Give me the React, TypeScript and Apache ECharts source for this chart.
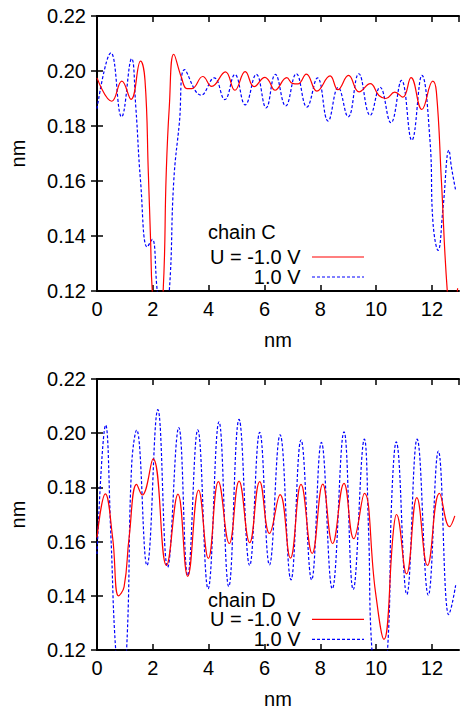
import { useEffect, useRef } from 'react';
import * as echarts from 'echarts';

// ---------- data (nm) ----------
const xTickStep = 2;
const yTickStep = 0.02;
const xMin = 0;
const xMax = 12.97;
const yMin = 0.12;
const yMax = 0.22;

const seriesNames = ['U = -1.0 V', '1.0 V'];
const panelTitles = ['chain C', 'chain D'];

// chain C, U = -1.0 V
const cNegX = [0, 0.53, 0.89, 1.22, 1.56, 1.72, 1.84, 1.92, 1.98, 2.17, 2.37, 2.48, 2.59, 2.75, 3.02, 3.22, 3.4, 3.79, 4.11, 4.6, 4.94, 5.31, 5.63, 6.02, 6.15, 6.38, 6.8, 7.0, 7.2, 7.5, 7.88, 8.35, 8.63, 9.01, 9.39, 9.79, 10.1, 10.35, 10.67, 10.96, 11.25, 11.64, 12.03, 12.16, 12.34, 12.55, 12.72, 12.92];
const cNegY = [0.1975, 0.189, 0.1963, 0.1897, 0.2036, 0.1966, 0.1627, 0.1384, 0.12, 0.1, 0.12, 0.1627, 0.1869, 0.2061, 0.1978, 0.1936, 0.1936, 0.198, 0.1944, 0.1997, 0.193, 0.1998, 0.1943, 0.1977, 0.1966, 0.193, 0.1976, 0.1955, 0.1953, 0.1989, 0.1927, 0.1982, 0.1932, 0.1984, 0.1924, 0.1954, 0.1911, 0.19, 0.1923, 0.1905, 0.1976, 0.186, 0.1963, 0.1924, 0.16, 0.12, 0.107, 0.121];

// chain C, U = 1.0 V
const cPosX = [0, 0.5, 0.88, 1.24, 1.39, 1.56, 1.8, 1.98, 2.16, 2.37, 2.59, 2.75, 2.95, 3.14, 3.73, 4.2, 4.58, 4.94, 5.31, 5.71, 6.06, 6.39, 6.76, 7.14, 7.52, 7.9, 8.28, 8.64, 9.0, 9.38, 9.79, 10.14, 10.53, 10.91, 11.28, 11.64, 11.93, 12.04, 12.22, 12.4, 12.61, 12.7, 12.85];
const cPosY = [0.1863, 0.2066, 0.1833, 0.2045, 0.1869, 0.16, 0.136, 0.1388, 0.12, 0.105, 0.12, 0.16, 0.181, 0.2005, 0.1912, 0.1975, 0.1896, 0.1987, 0.1877, 0.1988, 0.1866, 0.1988, 0.1873, 0.199, 0.1869, 0.1975, 0.1818, 0.194, 0.1833, 0.199, 0.1839, 0.1941, 0.1812, 0.1966, 0.1748, 0.1984, 0.1748, 0.1446, 0.1348, 0.1505, 0.1712, 0.165, 0.1566];

// chain D, U = -1.0 V
const dNegX = [0, 0.3, 0.56, 0.77, 0.97, 1.15, 1.42, 1.62, 2.01, 2.49, 2.9, 3.25, 3.64, 3.99, 4.35, 4.74, 5.09, 5.47, 5.83, 6.18, 6.56, 6.93, 7.31, 7.71, 8.09, 8.44, 8.85, 9.2, 9.58, 9.97, 10.28, 10.62, 10.73, 11.09, 11.46, 11.84, 12.27, 12.63, 12.82];
const dNegY = [0.1615, 0.1776, 0.1615, 0.14, 0.1433, 0.1615, 0.1811, 0.1772, 0.1905, 0.1512, 0.1775, 0.1472, 0.179, 0.1538, 0.1821, 0.1593, 0.1823, 0.1596, 0.1821, 0.163, 0.1773, 0.1539, 0.1811, 0.1556, 0.1812, 0.1593, 0.1815, 0.1611, 0.1778, 0.142, 0.1239, 0.164, 0.17, 0.1481, 0.1762, 0.1512, 0.1778, 0.1655, 0.1695];

// chain D, U = 1.0 V
const dPosX = [0, 0.31, 0.5, 0.67, 0.86, 1.06, 1.24, 1.42, 1.79, 2.18, 2.53, 2.93, 3.25, 3.61, 3.98, 4.37, 4.72, 5.09, 5.47, 5.83, 6.18, 6.56, 6.95, 7.31, 7.69, 8.04, 8.43, 8.85, 9.18, 9.58, 9.73, 9.85, 10.13, 10.41, 10.56, 10.72, 11.1, 11.47, 11.87, 12.23, 12.6, 12.7, 12.85];
const dPosY = [0.1554, 0.203, 0.1615, 0.12, 0.105, 0.12, 0.188, 0.2012, 0.1512, 0.2087, 0.1505, 0.2021, 0.1475, 0.2012, 0.1426, 0.2042, 0.1434, 0.2051, 0.1512, 0.2003, 0.1514, 0.1994, 0.1459, 0.1975, 0.1459, 0.1966, 0.1426, 0.2005, 0.1423, 0.1978, 0.164, 0.12, 0.1, 0.12, 0.176, 0.1968, 0.1405, 0.1978, 0.1402, 0.1934, 0.133, 0.136, 0.1439];

const zip = (xs: number[], ys: number[]) => xs.map((x, i) => [x, ys[i]]);

const FONT = 'Liberation Sans, Arial, Helvetica, sans-serif';
const RED = '#ff0000';
const BLUE = '#0000ff';

const grids = [
  { left: 94, top: 16, width: 365, height: 275 },
  { left: 94, top: 379, width: 365, height: 275 },
];

export default function App() {
  const ref = useRef<HTMLDivElement>(null);

  useEffect(() => {
    if (!ref.current) return;
    const chart = echarts.init(ref.current, undefined, { renderer: 'svg' });

    const xAxes: any[] = [];
    const yAxes: any[] = [];
    grids.forEach((_, gi) => {
      const base = {
        gridIndex: gi,
        type: 'value',
        min: xMin,
        max: xMax,
        interval: xTickStep,
        splitLine: { show: false },
        axisLine: { show: true, lineStyle: { color: '#000', width: 2 } },
        axisTick: { show: true, inside: true, length: 6, lineStyle: { color: '#000', width: 1.5 } },
      };
      xAxes.push({
        ...base,
        position: 'bottom',
        axisLabel: {
          show: true, color: '#000', fontSize: 20, fontFamily: FONT, margin: 8,
          showMaxLabel: false,
          formatter: (v: number) => String(Math.round(v)),
        },
        name: 'nm',
        nameLocation: 'middle',
        nameGap: 39,
        nameTextStyle: { color: '#000', fontSize: 20, fontFamily: FONT },
      });
      xAxes.push({
        ...base,
        position: 'top',
        axisLabel: { show: false },
      });
      const ybase = {
        gridIndex: gi,
        type: 'value',
        min: yMin,
        max: yMax,
        interval: yTickStep,
        splitLine: { show: false },
        axisLine: { show: true, lineStyle: { color: '#000', width: 2 } },
        axisTick: { show: true, inside: true, length: 6, lineStyle: { color: '#000', width: 1.5 } },
      };
      yAxes.push({
        ...ybase,
        position: 'left',
        axisLabel: {
          show: true, color: '#000', fontSize: 20, fontFamily: FONT, margin: 11,
          formatter: (v: number) => v.toFixed(2),
        },
        name: 'nm',
        nameLocation: 'middle',
        nameGap: 69,
        nameTextStyle: { color: '#000', fontSize: 20, fontFamily: FONT },
      });
      yAxes.push({
        ...ybase,
        position: 'right',
        axisLabel: { show: false },
      });
    });

    const panels = [
      { neg: zip(cNegX, cNegY), pos: zip(cPosX, cPosY) },
      { neg: zip(dNegX, dNegY), pos: zip(dPosX, dPosY) },
    ];

    const series: any[] = [];
    panels.forEach((p, gi) => {
      series.push({
        type: 'line',
        name: seriesNames[0],
        xAxisIndex: gi * 2,
        yAxisIndex: gi * 2,
        data: p.neg,
        showSymbol: false,
        smooth: 0.45,
        clip: true,
        lineStyle: { color: RED, width: 1.2 },
        z: 3,
      });
      series.push({
        type: 'line',
        name: seriesNames[1],
        xAxisIndex: gi * 2,
        yAxisIndex: gi * 2,
        data: p.pos,
        showSymbol: false,
        smooth: 0.45,
        clip: true,
        lineStyle: { color: BLUE, width: 1.2, type: [3, 2] },
        z: 2,
      });
    });

    const legendY = [
      { title: 232, a: 257, b: 277 },
      { title: 599.5, a: 619.3, b: 639.3 },
    ];
    const graphic: any[] = [];
    legendY.forEach((ly, gi) => {
      const ts = { fill: '#000', fontSize: 20, fontFamily: FONT, verticalAlign: 'middle' };
      graphic.push({ type: 'text', left: 208, top: ly.title - 10, style: { ...ts, text: panelTitles[gi], verticalAlign: 'top' }, z: 10 });
      graphic.push({ type: 'text', x: 300.5, y: ly.a, style: { ...ts, text: seriesNames[0], align: 'right' }, z: 10 });
      graphic.push({ type: 'text', x: 300.5, y: ly.b, style: { ...ts, text: seriesNames[1], align: 'right' }, z: 10 });
      graphic.push({ type: 'line', shape: { x1: 312, y1: ly.a, x2: 364, y2: ly.a }, style: { stroke: RED, lineWidth: 1.2 }, z: 10 });
      graphic.push({ type: 'line', shape: { x1: 312, y1: ly.b, x2: 364, y2: ly.b }, style: { stroke: BLUE, lineWidth: 1.2, lineDash: [3, 2] }, z: 10 });
    });

    chart.setOption({
      animation: false,
      backgroundColor: '#fff',
      grid: grids.map((g) => ({ ...g, containLabel: false })),
      xAxis: xAxes,
      yAxis: yAxes,
      series,
      graphic,
    });

    return () => chart.dispose();
  }, []);

  return (
    <div
      ref={ref}
      style={{ position: 'fixed', left: 0, top: 0, width: 460, height: 710, background: '#fff' }}
    />
  );
}
